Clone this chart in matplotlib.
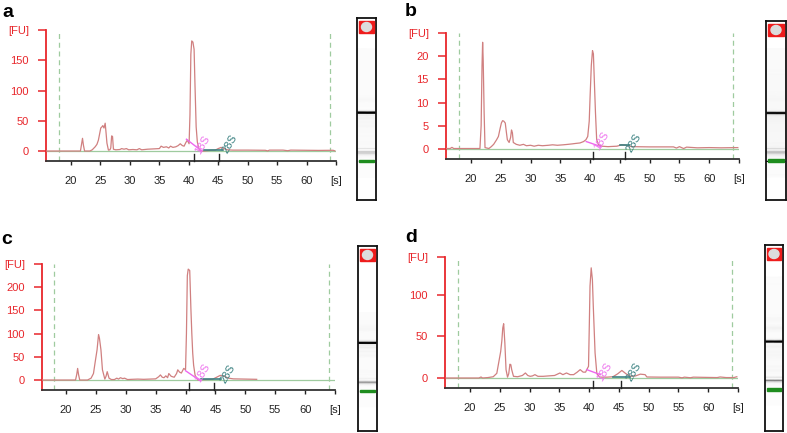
import numpy as np
import matplotlib.pyplot as plt
from matplotlib.patches import Rectangle, Ellipse
import matplotlib.transforms as mtransforms

plt.rcParams['font.family'] = ['Liberation Sans', 'DejaVu Sans']

W, H = 787, 433

# electropherogram traces: migration time [s] and fluorescence [FU]
t_a = [15.8, 21.6, 21.8, 21.95, 22.1, 22.3, 23.2, 23.6, 24.1, 24.4, 24.65, 24.85, 25.05,
       25.25, 25.4, 25.6, 25.8, 25.95, 26.1, 26.35, 26.6, 26.75, 26.9, 27.05, 27.2, 27.6,
       28.3, 28.6, 29.0, 29.4, 29.8, 30.5, 31.2, 31.6, 32.0, 33.0, 34.0, 35.0, 35.3, 35.7,
       36.2, 36.6, 36.9, 37.3, 37.8, 38.2, 38.55, 38.9, 39.2, 39.5, 39.75, 40.05, 40.2,
       40.35, 40.5, 40.7, 40.9, 41.05, 41.25, 41.45, 41.7, 42.0, 42.6, 43.5, 44.5, 45.0,
       45.5, 46.0, 46.5, 47.5, 50.0, 53.0, 53.4, 53.7, 56.0, 56.8, 57.3, 60.0, 62.0, 64.5, 64.8]
fu_a = [0, 0, 12, 21, 10, 0, 0, 2, 7, 11, 18, 28, 38,
        40, 42, 38, 46, 30, 13, 1.5, 2, 5, 25, 24, 3, 2,
        2.5, 4, 3, 4, 2, 2.5, 2, 4, 2, 3, 3.5, 4, 8, 6,
        7, 5, 8, 6, 7, 9, 12, 9, 8, 14, 18, 12, 60,
        160, 182, 180, 168, 110, 40, 15, 4, 0, 0, 1, 1.5, 4,
        6, 4, 2, 1.5, 1.5, 1.2, 0.2, 1.5, 1.5, 0.5, 1.5, 1.2, 1.0, 1.2, 0.3]

t_b = [15.8, 16.5, 16.8, 17.1, 19.0, 21.5, 21.7, 21.85, 21.95, 22.05, 22.2, 22.35, 23.0,
       23.4, 23.8, 24.3, 24.6, 24.9, 25.1, 25.3, 25.5, 25.75, 25.95, 26.1, 26.4, 26.65,
       26.8, 26.95, 27.1, 27.6, 28.2, 28.8, 29.3, 30.0, 30.6, 31.3, 32.0, 33.0, 33.7, 34.5,
       35.5, 36.3, 37.0, 37.6, 38.3, 38.9, 39.3, 39.6, 39.85, 40.0, 40.2, 40.4, 40.55,
       40.7, 40.9, 41.1, 41.4, 42.0, 43.0, 44.5, 45.3, 46.0, 47.0, 50.0, 54.0, 54.5, 55.0,
       55.7, 56.2, 58.0, 60.0, 62.0, 64.8]
fu_b = [0.1, 0.1, 0.35, 0.1, 0.1, 0.1, 5, 18, 23, 19, 8, 0.3, 0.1,
        0.5, 1, 2, 2.7, 4.5, 5.6, 6.1, 6.0, 5.6, 3.5, 2, 1.4, 2.5,
        4.1, 3.5, 1.4, 1.0, 0.8, 1.0, 0.7, 0.8, 0.6, 0.8, 0.7, 0.8, 0.9, 0.8,
        0.9, 1.0, 1.1, 1.2, 1.3, 1.6, 2.0, 2.7, 6, 11.4, 18, 21.2, 20.5,
        15, 7.8, 2.0, 0.9, 0.6, 0.5, 0.6, 0.9, 0.8, 0.5, 0.45, 0.45, 0.2, 0.5,
        0.1, 0.4, 0.25, 0.3, 0.25, 0.3]

t_c = [16.0, 21.6, 21.8, 21.95, 22.1, 22.3, 23.6, 24.2, 24.6, 24.9, 25.2, 25.45, 25.6,
       25.85, 26.1, 26.5, 26.7, 26.9, 27.2, 27.6, 28.1, 28.5, 28.8, 29.1, 29.5, 29.8,
       30.3, 31.0, 32.0, 33.0, 34.0, 35.0, 35.5, 35.8, 36.1, 36.4, 36.7, 37.0, 37.2, 37.6,
       38.1, 38.5, 38.7, 39.0, 39.3, 39.7, 40.0, 40.15, 40.3, 40.45, 40.7, 40.9, 41.05,
       41.2, 41.35, 41.6, 42.05, 43.0, 44.5, 45.2, 45.8, 46.5, 47.2, 48.0, 50.0, 51.9]
fu_c = [0, 0, 12, 25, 12, 0, 0, 4, 14, 40, 65, 98, 90,
        65, 22, 2, 8, 18, 4, 1, 1, 4, 2, 5, 3, 4,
        1, 1.5, 2, 1.5, 2, 2.5, 7, 11, 6, 5, 9, 5, 14, 8,
        6, 14, 22, 17, 15, 25, 22, 100, 225, 239, 236, 152, 100,
        58, 32, 10, 0, 1, 1.5, 6, 10, 8, 4, 2.5, 2, 1.5]

t_d = [16.0, 21.5, 21.85, 22.1, 23.0, 23.9, 24.5, 24.9, 25.15, 25.35, 25.5, 25.65, 25.85,
       26.05, 26.3, 26.5, 26.7, 26.85, 27.0, 27.3, 28.0, 28.8, 29.3, 29.7, 30.1, 30.5,
       30.9, 31.4, 32.3, 33.2, 34.2, 35.1, 35.6, 36.2, 36.8, 37.4, 38.0, 38.5, 39.0, 39.4,
       39.9, 40.05, 40.15, 40.35, 40.55, 40.7, 41.0, 41.3, 41.8, 43.0, 44.0, 44.8, 45.5,
       46.2, 47.0, 47.8, 48.6, 49.4, 49.7, 52.0, 55.0, 55.6, 56.0, 57.0, 57.5, 59.0, 61.5,
       62.0, 63.0, 64.3, 64.8]
fu_d = [0, 0, 1.2, 0, 0.5, 1.5, 5.6, 21.7, 31.7, 45, 60, 65, 42,
        10, 1, 5, 16.5, 16, 10, 2, 1.5, 3, 6, 3, 2, 2.5,
        4, 2, 2, 2.5, 3, 6, 4, 6, 4, 4, 7, 10, 7, 7,
        14, 70, 110, 132, 118, 86, 30, 5, 1, 1, 1.5, 5, 9,
        5, 2, 2.5, 4.6, 4, 1.2, 1, 1, 0.2, 1, 0.3, 1, 0.8, 0.5,
        1.2, 0.5, 0.5, 1.5]

yticks_a = [0, 50, 100, 150, 200]
yticks_b = [0, 5, 10, 15, 20, 25]
yticks_c = [0, 50, 100, 150, 200, 250]
yticks_d = [0, 50, 100, 145]
xticks = [20, 25, 30, 35, 40, 45, 50, 55, 60, 65]
xticklabels = ['20', '25', '30', '35', '40', '45', '50', '55', '60', '[s]']

# 18S / 28S baseline segments: [t0, t1], [fu0, fu1]
s18_t_a, s18_fu_a = [39.6, 42.2], [19.5, 0]
s28_t_a, s28_fu_a = [42.5, 45.8], [2.5, 2.5]
s18_t_b, s18_fu_b = [39.35, 41.85], [1.6, 0.5]
s28_t_b, s28_fu_b = [45.0, 46.6], [0.9, 0.9]
s18_t_c, s18_fu_c = [40.0, 42.5], [20, -2]
s28_t_c, s28_fu_c = [42.6, 46.0], [2, 2]
s18_t_d, s18_fu_d = [39.6, 41.9], [10, 4]
s28_t_d, s28_fu_d = [44.0, 46.8], [1.5, 1.5]

# peak region markers [s]
marks_a = [40.8, 45.2]
marks_b = [40.4, 45.9]
marks_c = [40.6, 44.8]
marks_d = [40.6, 45.4]

window = [18, 64]
marker_time = 22.0

RED = '#e8262b'
TRACE = '#d08080'
GREEN = '#9fcb9f'


def fig_rect(x0, y0, x1, y1):
    return [x0 / W, 1 - y1 / H, (x1 - x0) / W, (y1 - y0) / H]


def draw_trace(fig, box, x_left, ylim, yticks, t, fu, s18, s28, marks, lab18, lab28):
    ax = fig.add_axes(fig_rect(*box))
    ax.axhline(0, color=GREEN, lw=0.9, zorder=1)
    for xv in window:
        ax.axvline(xv, color=GREEN, lw=0.9, ls=(0, (4, 3)), zorder=1)
    ax.plot(t, fu, color=TRACE, lw=0.9, zorder=3)
    ax.plot(s18[0], s18[1], color='#ee66ee', lw=1.0, zorder=4)
    ax.plot(s28[0], s28[1], color='#3c8282', lw=1.2, zorder=4)

    trans = mtransforms.blended_transform_factory(ax.transData, ax.transAxes)
    hpx = box[3] - box[1]
    for m in marks:
        ax.plot([m, m], [0, 7 / hpx], color='#222222', lw=1.0, transform=trans,
                clip_on=False, zorder=5)
    ax.text(lab18[0], lab18[1], '18S', color='#ee77ee', fontsize=8, rotation=60,
            ha='center', va='center', zorder=6)
    ax.text(lab28[0], lab28[1], '28S', color='#3c8282', fontsize=8, rotation=60,
            ha='center', va='center', zorder=6)

    ax.set_xlim(x_left, 65)
    ax.set_ylim(*ylim)
    ax.set_xticks(xticks)
    ax.set_xticklabels(xticklabels)
    ax.set_yticks(yticks)
    ax.set_yticklabels([str(v) for v in yticks[:-1]] + ['[FU]'])

    for s in ['top', 'right']:
        ax.spines[s].set_visible(False)
    ax.spines['left'].set_color(RED)
    ax.spines['left'].set_linewidth(1.3)
    ax.spines['bottom'].set_color('#333333')
    ax.spines['bottom'].set_linewidth(1.3)
    ax.tick_params(axis='y', colors=RED, length=5.8, width=1.1, pad=6.5, labelsize=8)
    ax.tick_params(axis='x', colors='#222222', length=3.2, width=1.0, pad=7.5, labelsize=8)
    return ax


def draw_lane(fig, box, green_px, t, fu):
    ax = fig.add_axes(fig_rect(*box))
    px_per_s = 2.62
    t_bottom = marker_time - (box[3] - green_px) / px_per_s
    t_top = marker_time + (green_px - box[1]) / px_per_s
    t = np.asarray(t)
    fu = np.asarray(fu)
    vmax = 0.85 * fu[t > 24].max()
    X = np.column_stack([np.zeros_like(t), np.ones_like(t)])
    Y = np.column_stack([t, t])
    C = np.column_stack([fu, fu])
    ax.pcolormesh(X, Y, C, shading='gouraud', cmap='Greys', vmin=-0.03 * vmax, vmax=vmax)
    hpx = box[3] - box[1]
    ax.axhspan(marker_time - 0.55, marker_time + 0.55, xmin=0.1, xmax=0.9,
               color='#1e8c1e', zorder=3)
    ax.set_xlim(0, 1)
    ax.set_ylim(t_bottom, t_top)
    wpx = box[2] - box[0]
    ax.add_patch(Rectangle((2 / wpx, 1 - 15 / hpx), 1 - 4 / wpx, 12 / hpx,
                           transform=ax.transAxes, color='#ee1c1c', zorder=4))
    ax.add_patch(Ellipse((0.5, 1 - 9 / hpx), 10 / wpx, 9 / hpx,
                         transform=ax.transAxes, color='#dcdcdc', zorder=5))
    ax.set_xticks([])
    ax.set_yticks([])
    for s in ax.spines.values():
        s.set_color('#111111')
        s.set_linewidth(1.3)
    return ax


fig = plt.figure(figsize=(W / 100, H / 100), dpi=100)

draw_trace(fig, (46, 30, 336, 161), 15.75, (-16.5, 200), yticks_a, t_a, fu_a,
           (s18_t_a, s18_fu_a), (s28_t_a, s28_fu_a), marks_a, (42.4, 10), (46.9, 12))
draw_trace(fig, (446, 33, 739, 159), 15.8, (-2.16, 25), yticks_b, t_b, fu_b,
           (s18_t_b, s18_fu_b), (s28_t_b, s28_fu_b), marks_b, (41.9, 1.7), (47.3, 1.3))
draw_trace(fig, (42, 264, 335, 390), 15.99, (-21.5, 250), yticks_c, t_c, fu_c,
           (s18_t_c, s18_fu_c), (s28_t_c, s28_fu_c), marks_c, (42.9, 14.5), (47.0, 13))
draw_trace(fig, (445, 257, 738, 388), 15.8, (-12, 145), yticks_d, t_d, fu_d,
           (s18_t_d, s18_fu_d), (s28_t_d, s28_fu_d), marks_d, (42.5, 7.6), (47.45, 7.6))

draw_lane(fig, (357, 18, 376, 200), 161, t_a, fu_a)
draw_lane(fig, (766, 21, 786, 200), 160.7, t_b, fu_b)
draw_lane(fig, (358, 246, 377, 431), 391, t_c, fu_c)
draw_lane(fig, (765, 245, 783, 431), 389.3, t_d, fu_d)

for letter, x, y in [('a', 2, 4), ('b', 405, 3), ('c', 1, 231), ('d', 405, 229)]:
    fig.text(x / W, 1 - y / H, letter, fontsize=14, fontweight='bold',
             ha='left', va='top')

fig.savefig('out.png', dpi=100)
